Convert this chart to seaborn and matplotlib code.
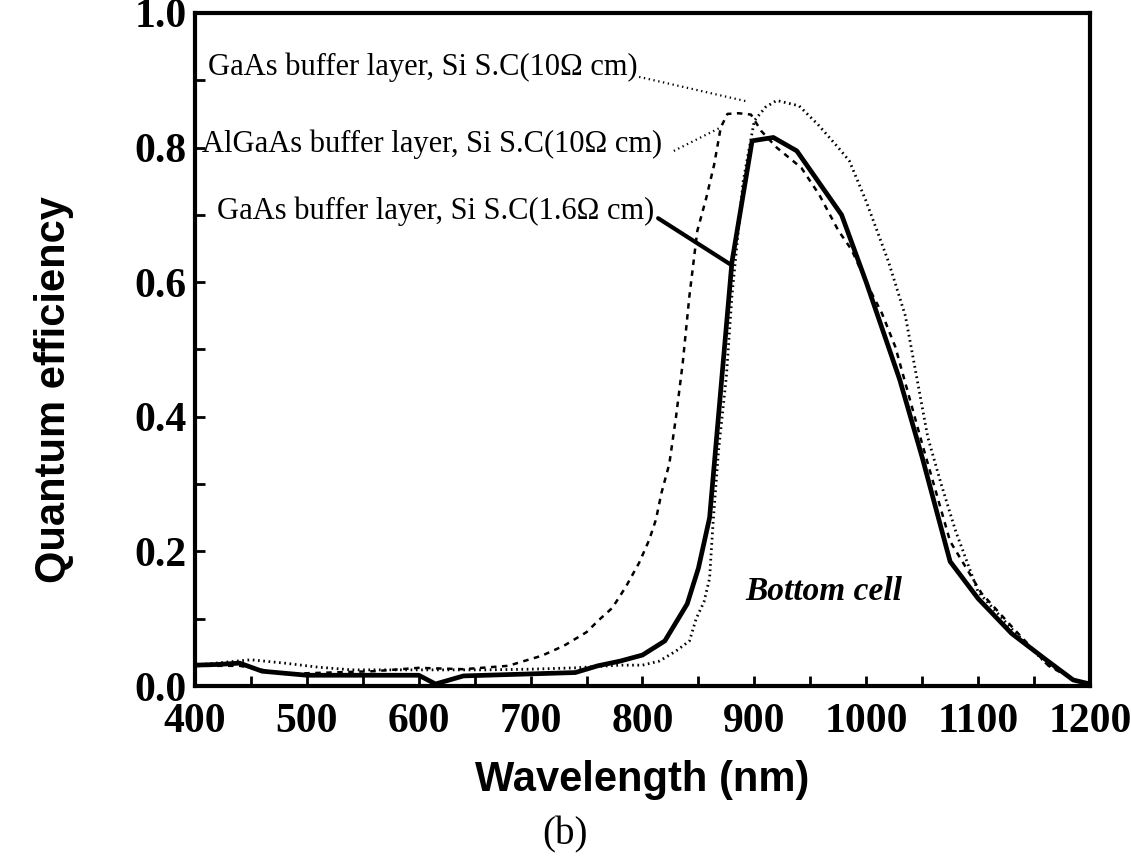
import numpy as np
import pandas as pd
import seaborn as sns
import matplotlib.pyplot as plt
from matplotlib.ticker import MultipleLocator

# quantum efficiency of the bottom cell
wl_16 = [400, 420, 440, 460, 500, 560, 600, 615, 640, 700, 740, 760, 780, 800,
         820, 840, 850, 860, 870, 880, 898, 917, 938, 978, 1000, 1030, 1050,
         1075, 1100, 1130, 1160, 1185, 1200]
qe_16 = [0.031, 0.032, 0.034, 0.022, 0.016, 0.016, 0.016, 0.003, 0.015, 0.018,
         0.020, 0.030, 0.037, 0.046, 0.067, 0.122, 0.175, 0.25, 0.44, 0.63,
         0.81, 0.815, 0.795, 0.70, 0.60, 0.455, 0.34, 0.185, 0.13, 0.078,
         0.040, 0.009, 0.003]

wl_10 = [400, 450, 480, 510, 540, 580, 620, 660, 700, 740, 780, 800, 815, 830,
         842, 848, 855, 860, 863, 868, 875, 880, 890, 900, 910, 920, 940, 957,
         975, 985, 1000, 1020, 1035, 1045, 1055, 1067, 1080, 1100, 1130, 1160,
         1185, 1200]
qe_10 = [0.031, 0.039, 0.034, 0.028, 0.024, 0.024, 0.024, 0.024, 0.025, 0.027,
         0.031, 0.031, 0.037, 0.052, 0.067, 0.10, 0.125, 0.16, 0.24, 0.35,
         0.46, 0.58, 0.75, 0.84, 0.86, 0.87, 0.862, 0.834, 0.80, 0.78, 0.72,
         0.63, 0.55, 0.46, 0.37, 0.30, 0.23, 0.14, 0.085, 0.035, 0.01, 0.003]

wl_al = [400, 440, 480, 520, 560, 600, 640, 680, 710, 730, 750, 761, 773, 785,
         797, 806, 812, 817, 824, 830, 836, 842, 849, 857, 864, 870, 876, 886,
         897, 906, 920, 942, 958, 975, 987, 1002, 1014, 1026, 1050, 1075, 1103,
         1133, 1163, 1185, 1200]
qe_al = [0.030, 0.030, 0.018, 0.020, 0.022, 0.027, 0.025, 0.030, 0.045, 0.060,
         0.080, 0.098, 0.116, 0.147, 0.183, 0.217, 0.247, 0.287, 0.33, 0.40,
         0.48, 0.58, 0.676, 0.725, 0.774, 0.83, 0.85, 0.851, 0.849, 0.825,
         0.80, 0.77, 0.73, 0.677, 0.648, 0.593, 0.554, 0.504, 0.36, 0.215,
         0.138, 0.083, 0.030, 0.010, 0.003]

labels = ["GaAs buffer layer, Si S.C(10\u03a9 cm)",
          "AlGaAs buffer layer, Si S.C(10\u03a9 cm)",
          "GaAs buffer layer, Si S.C(1.6\u03a9 cm)"]
label_x = [412, 406, 420]
label_y = [0.92, 0.805, 0.705]
# leader lines from the label ends to the curves
lead_x = [[797, 895], [828, 870], [814, 879]]
lead_y = [[0.905, 0.868], [0.795, 0.83], [0.695, 0.626]]

sns.set_style("ticks")
plt.rcParams.update({"text.color": "black", "axes.labelcolor": "black",
                     "xtick.color": "black", "ytick.color": "black"})
fig = plt.figure(figsize=(11.31, 8.64), dpi=100)
ax = fig.add_axes([0.1724, 0.206, 0.7913, 0.779])

sns.lineplot(x=wl_10, y=qe_10, ax=ax, color="black", lw=2.0,
             linestyle=(0, (0.6, 1.3)))
sns.lineplot(x=wl_al, y=qe_al, ax=ax, color="black", lw=1.8,
             linestyle=(0, (2.2, 2.2)))
sns.lineplot(x=wl_16, y=qe_16, ax=ax, color="black", lw=3.4)

serif = "Liberation Serif"
for i in range(3):
    ax.text(label_x[i], label_y[i], labels[i], family=serif, fontsize=22,
            ha="left", va="center", color="black")
ax.plot(lead_x[0], lead_y[0], color="black", lw=1.6, linestyle=(0, (0.6, 1.6)))
ax.plot(lead_x[1], lead_y[1], color="black", lw=1.6, linestyle=(0, (0.6, 1.6)))
ax.plot(lead_x[2], lead_y[2], color="black", lw=3)

ax.text(892, 0.128, "Bottom cell", family=serif, fontsize=24, color="black",
        fontweight="bold", fontstyle="italic", ha="left", va="baseline")

ax.set_xlim(400, 1200)
ax.set_ylim(0, 1.0)
ax.xaxis.set_major_locator(MultipleLocator(100))
ax.xaxis.set_minor_locator(MultipleLocator(50))
ax.yaxis.set_major_locator(MultipleLocator(0.2))
ax.yaxis.set_minor_locator(MultipleLocator(0.1))
ax.yaxis.set_major_formatter(plt.FormatStrFormatter("%.1f"))
ax.tick_params(which="both", direction="in", width=2, length=7,
               top=False, right=False, colors="black")
ax.tick_params(axis="x", pad=12)
ax.tick_params(axis="y", pad=6)
for lab in ax.get_xticklabels() + ax.get_yticklabels():
    lab.set_family(serif)
    lab.set_fontweight("bold")
    lab.set_fontsize(30)
for s in ax.spines.values():
    s.set_linewidth(3)
    s.set_color("black")

ax.set_xlabel("Wavelength (nm)", family="Liberation Sans", fontweight="bold",
              fontsize=30, color="black")
ax.set_ylabel("Quantum efficiency", family="Liberation Sans",
              fontweight="bold", fontsize=30, color="black")
ax.xaxis.set_label_coords(0.5, -0.11)
ax.yaxis.set_label_coords(-0.135, 0.44)

fig.text(0.5, 0.034, "(b)", family=serif, fontsize=28, ha="center",
         va="center", color="black")

fig.savefig("out.png", dpi=100)
